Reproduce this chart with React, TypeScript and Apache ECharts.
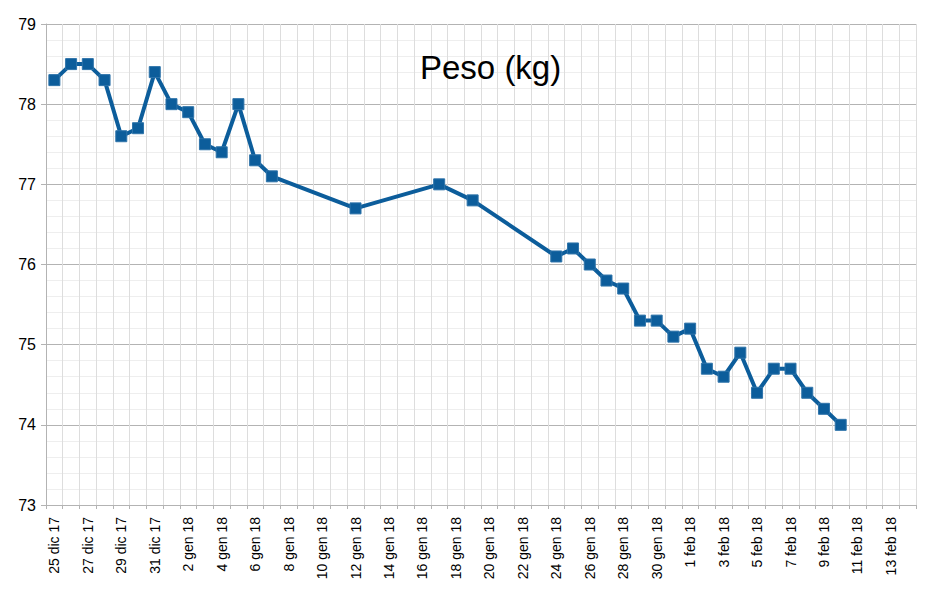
import React, { useEffect, useRef } from "react";
import * as echarts from "echarts";

const categories: string[] = [
  "25 dic 17", "26 dic 17", "27 dic 17", "28 dic 17", "29 dic 17", "30 dic 17", "31 dic 17",
  "1 gen 18", "2 gen 18", "3 gen 18", "4 gen 18", "5 gen 18", "6 gen 18", "7 gen 18", "8 gen 18",
  "9 gen 18", "10 gen 18", "11 gen 18", "12 gen 18", "13 gen 18", "14 gen 18", "15 gen 18",
  "16 gen 18", "17 gen 18", "18 gen 18", "19 gen 18", "20 gen 18", "21 gen 18", "22 gen 18",
  "23 gen 18", "24 gen 18", "25 gen 18", "26 gen 18", "27 gen 18", "28 gen 18", "29 gen 18",
  "30 gen 18", "31 gen 18", "1 feb 18", "2 feb 18", "3 feb 18", "4 feb 18", "5 feb 18",
  "6 feb 18", "7 feb 18", "8 feb 18", "9 feb 18", "10 feb 18", "11 feb 18", "12 feb 18",
  "13 feb 18", "14 feb 18",
];

const peso: (number | null)[] = [
  78.3, 78.5, 78.5, 78.3, 77.6, 77.7, 78.4,
  78.0, 77.9, 77.5, 77.4, 78.0, 77.3, 77.1, null,
  null, null, null, 76.7, null, null, null,
  null, 77.0, null, 76.8, null, null, null,
  null, 76.1, 76.2, 76.0, 75.8, 75.7, 75.3,
  75.3, 75.1, 75.2, 74.7, 74.6, 74.9, 74.4,
  74.7, 74.7, 74.4, 74.2, 74.0, null, null,
  null, null,
];

const titleText = "Peso (kg)";
const yMin = 73;
const yMax = 79;

export default function App() {
  const ref = useRef<HTMLDivElement>(null);
  useEffect(() => {
    if (!ref.current) return;
    const chart = echarts.init(ref.current, undefined, { renderer: "svg" });
    const font = "'Liberation Sans', Arial, sans-serif";
    chart.setOption({
      animation: false,
      backgroundColor: "#ffffff",
      title: {
        text: titleText,
        left: 415,
        top: 46,
        textStyle: { fontFamily: font, fontSize: 33, fontWeight: "normal", color: "#000000" },
      },
      grid: { left: 46, right: 13, top: 24, bottom: 89, containLabel: false },
      xAxis: {
        type: "category",
        data: categories,
        boundaryGap: true,
        axisLine: { show: true, lineStyle: { color: "#b3b3b3", width: 1 } },
        axisTick: { show: true, interval: 0, length: 4, lineStyle: { color: "#b3b3b3" } },
        axisLabel: {
          interval: 1,
          rotate: 90,
          margin: 12,
          fontFamily: font,
          fontSize: 14,
          color: "#000000",
        },
        splitLine: { show: true, interval: 0, lineStyle: { color: "#dddddd", width: 1 } },
      },
      yAxis: {
        type: "value",
        min: yMin,
        max: yMax,
        interval: 1,
        axisLine: { show: true, lineStyle: { color: "#b3b3b3", width: 1 } },
        axisTick: { show: true, length: 5, lineStyle: { color: "#b3b3b3" } },
        axisLabel: { fontFamily: font, fontSize: 16, color: "#000000", margin: 10 },
        splitLine: { show: true, lineStyle: { color: "#b3b3b3", width: 1 } },
        minorTick: { show: false, splitNumber: 5 },
        minorSplitLine: { show: true, lineStyle: { color: "#eeeeee", width: 1 } },
      },
      series: [
        {
          type: "line",
          data: peso,
          connectNulls: true,
          symbol: "rect",
          symbolSize: 11,
          showSymbol: true,
          lineStyle: { color: "#0c5d9b", width: 4 },
          itemStyle: { color: "#0c5d9b", borderColor: "#2f74aa", borderWidth: 1 },
          z: 5,
        },
      ],
    });
    return () => chart.dispose();
  }, []);
  return (
    <div
      ref={ref}
      style={{ position: "fixed", left: 0, top: 0, width: 929, height: 594 }}
    />
  );
}
